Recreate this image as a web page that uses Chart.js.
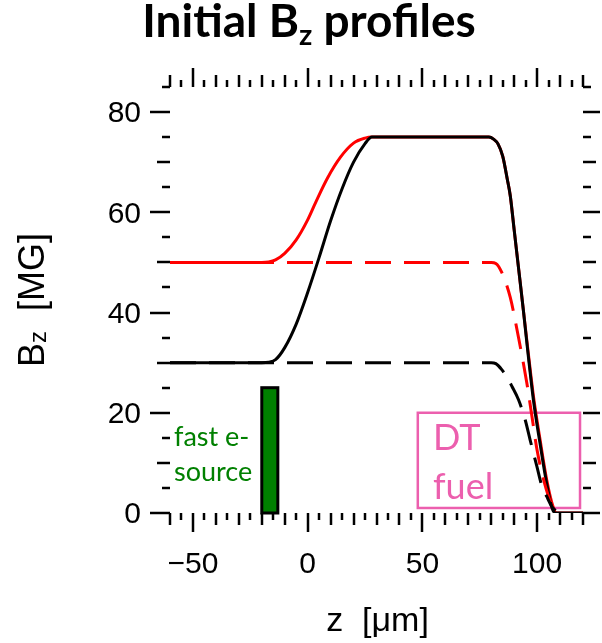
<!DOCTYPE html>
<html>
<head>
<meta charset="utf-8">
<script src="https://cdn.jsdelivr.net/npm/chart.js@4.4.1/dist/chart.umd.min.js"></script>
<style>
  html, body { margin: 0; padding: 0; background: #fff; }
  #wrap { width: 602px; height: 643px; position: relative; }
</style>
</head>
<body>
<div id="wrap"><canvas id="chart-bz"></canvas></div>
<script>
// ── Data ──────────────────────────────────────────────────────────────────────
const X_MIN = -60, X_MAX = 120;
const Y_MIN = 0,   Y_MAX = 85;
const xTickLabels = [-50, 0, 50, 100];
const yTickLabels = [0, 20, 40, 60, 80];

// solid red: 50 MG start
const zRedSolid = [-60, -20, -17, -14, -10, -5, 0, 3.5, 8.6, 14.3, 20, 25, 28, 79, 81, 83, 85, 87, 88.3, 90, 92, 94, 96, 98.4, 101.3, 104.2, 107, 108.5, 120];
const bRedSolid = [50, 50, 50.1, 50.5, 51.8, 54.5, 58.5, 62, 66.8, 71, 73.8, 74.8, 75, 75, 74.6, 73.6, 71.2, 66.6, 63.3, 56.5, 48.5, 40.5, 32.5, 23.3, 14.6, 6.6, 1.2, 0, 0];

// solid black: 30 MG start
const zBlackSolid = [-60, -20, -17, -14, -10, -5, 0, 5, 10, 15, 20, 25, 28, 79, 81, 83, 85, 87, 88.3, 90, 92, 94, 96, 98.4, 101.3, 104.2, 106.5, 108, 120];
const bBlackSolid = [30, 30, 30.1, 30.6, 33, 37.7, 44, 51, 58.3, 64.7, 70, 73.7, 75, 75, 74.6, 73.6, 71.2, 66.6, 63.3, 56.5, 48.5, 40.5, 32, 22.5, 13.8, 5.8, 1, 0, 0];

// dashed red
const zRedDash = [-60, 80, 82, 84.6, 88.3, 91.9, 95.5, 98, 100, 103.2, 106.4, 108];
const bRedDash = [50, 50, 49.8, 48, 43, 35, 26, 18.5, 12.5, 6, 1.6, 0.5];

// dashed black
const zBlackDash = [-60, 80, 82, 84.6, 87, 89, 91.9, 94.8, 97, 99.9, 102, 104.2, 106.4, 108];
const bBlackDash = [30, 30, 29.8, 28.6, 27, 25.3, 22.6, 18.6, 14.5, 9.3, 5.5, 3.3, 1.3, 0.5];

// boxes: [zLeft, zRight, bBottom, bTop]
const sourceBox = [-20, -13, 0, 25];
const fuelBox   = [48, 118.7, 1, 20];

const pts = (xs, ys) => xs.map((v, i) => ({ x: v, y: ys[i] }));

// ── Frame, ticks, boxes and labels ────────────────────────────────────────────
const PINK  = '#ec5fae';
const GREEN = '#008000';

const framePlugin = {
  id: 'frame',
  beforeDatasetsDraw(chart) {
    const { ctx, scales: { x, y } } = chart;
    ctx.save();
    // fast e- source bar
    let [l, r, b, t] = sourceBox;
    ctx.fillStyle = GREEN;
    ctx.strokeStyle = '#000';
    ctx.lineWidth = 3;
    const sx = x.getPixelForValue(l), sw = x.getPixelForValue(r) - sx;
    const sy = y.getPixelForValue(t), sh = y.getPixelForValue(b) - sy;
    ctx.fillRect(sx, sy, sw, sh);
    ctx.strokeRect(sx, sy, sw, sh);
    // DT fuel box
    [l, r, b, t] = fuelBox;
    ctx.strokeStyle = PINK;
    ctx.lineWidth = 2.5;
    const fx = x.getPixelForValue(l), fw = x.getPixelForValue(r) - fx;
    const fy = y.getPixelForValue(t), fh = y.getPixelForValue(b) - fy;
    ctx.strokeRect(fx, fy, fw, fh);
    ctx.restore();
  },
  afterDraw(chart) {
    const { ctx, chartArea: a, scales: { x, y } } = chart;
    ctx.save();
    ctx.strokeStyle = '#000';
    ctx.lineWidth = 2.5;
    const seg = (x1, y1, x2, y2) => { ctx.beginPath(); ctx.moveTo(x1, y1); ctx.lineTo(x2, y2); ctx.stroke(); };

    // x ticks, bottom and top, pointing out
    for (let v = X_MIN; v <= X_MAX; v += 5) {
      const px = Math.round(x.getPixelForValue(v));
      const len = v % 50 === 0 ? 19 : v % 10 === 0 ? 12 : 7;
      seg(px, a.bottom, px, a.bottom + len);
      seg(px, a.top, px, a.top - len);
    }
    // y ticks, left and right
    for (let v = Y_MIN; v <= Y_MAX; v += 5) {
      const py = Math.round(y.getPixelForValue(v));
      const len = v % 20 === 0 ? 20 : v % 10 === 0 ? 13 : 8;
      seg(a.left, py, a.left - len, py);
      seg(a.right, py, a.right + Math.min(len, 17), py);
    }

    // tick labels
    ctx.fillStyle = '#000';
    ctx.font = '30px "Liberation Sans", Arial, sans-serif';
    ctx.textAlign = 'center';
    ctx.textBaseline = 'alphabetic';
    xTickLabels.forEach(v => {
      const s = v < 0 ? '\u2212' + Math.abs(v) : String(v);
      ctx.fillText(s, x.getPixelForValue(v), 573);
    });
    ctx.textAlign = 'right';
    ctx.textBaseline = 'middle';
    yTickLabels.forEach(v => ctx.fillText(String(v), 141, y.getPixelForValue(v) + 2));

    // x title
    ctx.font = '34px "Liberation Sans", Arial, sans-serif';
    ctx.textAlign = 'center';
    ctx.textBaseline = 'alphabetic';
    ctx.fillText('z  [\u03bcm]', (a.left + a.right) / 2 + 1, 631);

    // y title, rotated: B_z  [MG]
    ctx.save();
    ctx.translate(44, (a.top + a.bottom) / 2);
    ctx.rotate(-Math.PI / 2);
    const fBig = '36px "Liberation Sans", Arial, sans-serif';
    const fSub = '24px "Liberation Sans", Arial, sans-serif';
    ctx.font = fBig; const wB = ctx.measureText('B').width;
    const wRest = ctx.measureText('  [MG]').width;
    ctx.font = fSub; const wz = ctx.measureText('z').width;
    let cx = -(wB + wz + wRest) / 2;
    ctx.textAlign = 'left';
    ctx.font = fBig; ctx.fillText('B', cx, 0); cx += wB;
    ctx.font = fSub; ctx.fillText('z', cx, 2); cx += wz;
    ctx.font = fBig; ctx.fillText('  [MG]', cx, 0);
    ctx.restore();

    // title: Initial B_z profiles
    const tBig = 'bold 46px Lato, "Open Sans", sans-serif';
    const tSub = 'bold 29px Lato, "Open Sans", sans-serif';
    ctx.font = tBig; const w1 = ctx.measureText('Initial B').width;
    const w3 = ctx.measureText(' profiles').width;
    ctx.font = tSub; const w2 = ctx.measureText('z').width;
    let tx = 309 - (w1 + w2 + w3) / 2;
    ctx.textAlign = 'left';
    ctx.font = tBig; ctx.fillText('Initial B', tx, 37); tx += w1;
    ctx.font = tSub; ctx.fillText('z', tx, 45); tx += w2;
    ctx.font = tBig; ctx.fillText(' profiles', tx, 37);

    // annotations
    ctx.font = '27px Lato, "Open Sans", sans-serif';
    ctx.fillStyle = GREEN;
    ctx.fillText('fast e-', 174, 446);
    ctx.fillText('source', 174, 481);
    ctx.font = '36px Lato, "Open Sans", sans-serif';
    ctx.fillStyle = PINK;
    ctx.fillText('DT', 433, 450);
    ctx.fillText('fuel', 433, 499);
    ctx.restore();
  }
};

// ── Chart ─────────────────────────────────────────────────────────────────────
const lineDs = (data, color, dash) => ({
  data, borderColor: color, borderWidth: 3, borderDash: dash,
  pointRadius: 0, fill: false, cubicInterpolationMode: 'monotone'
});

new Chart(document.getElementById('chart-bz'), {
  type: 'line',
  data: {
    datasets: [
      lineDs(pts(zBlackDash, bBlackDash), '#000', [26, 13]),
      lineDs(pts(zRedDash, bRedDash), '#ff0000', [26, 13]),
      lineDs(pts(zBlackSolid, bBlackSolid), '#000', []),
      lineDs(pts(zRedSolid, bRedSolid), '#ff0000', []),
    ]
  },
  options: {
    responsive: true, maintainAspectRatio: false, animation: false,
    layout: { padding: { left: 170, right: 19, top: 87, bottom: 130 } },
    plugins: { legend: { display: false }, tooltip: { enabled: false } },
    scales: {
      x: { type: 'linear', min: X_MIN, max: X_MAX, display: false },
      y: { type: 'linear', min: Y_MIN, max: Y_MAX, display: false }
    }
  },
  plugins: [framePlugin]
});
</script>
</body>
</html>
